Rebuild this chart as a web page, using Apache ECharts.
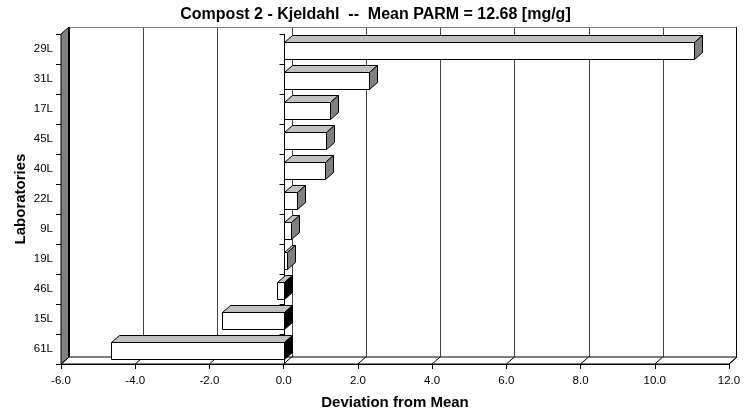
<!DOCTYPE html>
<html>
<head>
<meta charset="utf-8">
<script src="https://cdn.jsdelivr.net/npm/echarts@6/dist/echarts.min.js"></script>
<style>
html,body{margin:0;padding:0;background:#fff;}
#chart{width:751px;height:411px;}
</style>
</head>
<body>
<div id="chart"></div>
<script>
// Data
const labs = ['29L','31L','17L','45L','40L','22L','9L','19L','46L','15L','61L'];
const devs = [11.06, 2.29, 1.26, 1.13, 1.11, 0.37, 0.21, 0.10, -0.17, -1.65, -4.65];
const xTicks = [-6,-4,-2,0,2,4,6,8,10,12];
const titleText = 'Compost 2 - Kjeldahl  --  Mean PARM = 12.68 [mg/g]';

const DX = 8, DY = -7;
const FONT = 'Liberation Sans, Arial, sans-serif';

function frameItem(params, api) {
  const cs = params.coordSys;
  const x0 = cs.x, x1 = cs.x + cs.width, y0 = cs.y, y1 = cs.y + cs.height;
  const ch = [];
  ch.push({type:'rect', shape:{x:x0+DX, y:y0+DY, width:cs.width, height:cs.height}, style:{fill:'#fff', stroke:null}});
  xTicks.forEach(function(v, i){
    if (i === 0 || i === xTicks.length-1) return;
    const px = Math.round(api.coord([v, 0])[0] + DX) + 0.5;
    ch.push({type:'line', shape:{x1:px, y1:y0+DY, x2:px, y2:y1+DY}, style:{stroke:'#444', lineWidth:1}});
  });
  ch.push({type:'line', shape:{x1:x0+DX, y1:y0+DY+0.5, x2:x1+DX, y2:y0+DY+0.5}, style:{stroke:'#808080', lineWidth:1}});
  ch.push({type:'line', shape:{x1:x1+DX-0.5, y1:y0+DY, x2:x1+DX-0.5, y2:y1+DY}, style:{stroke:'#000', lineWidth:1}});
  ch.push({type:'polygon', shape:{points:[[x0,y1],[x1,y1],[x1+DX,y1+DY],[x0+DX,y1+DY]]}, style:{fill:'#fff', stroke:'#000', lineWidth:1}});
  xTicks.forEach(function(v){
    const px = api.coord([v, 0])[0];
    ch.push({type:'line', shape:{x1:px, y1:y1, x2:px+DX, y2:y1+DY}, style:{stroke:'#000', lineWidth:1}});
  });
  ch.push({type:'polygon', shape:{points:[[x0,y0],[x0+DX,y0+DY],[x0+DX,y1+DY],[x0,y1]]}, style:{fill:'#808080', stroke:'#000', lineWidth:1}});
  ch.push({type:'line', shape:{x1:x0+DX, y1:y0+DY, x2:x0+DX, y2:y1+DY}, style:{stroke:'#000', lineWidth:2}});
  const zx = Math.round(api.coord([0, 0])[0]) + 0.5;
  ch.push({type:'line', shape:{x1:zx, y1:y0, x2:zx, y2:y1}, style:{stroke:'#000', lineWidth:1}});
  const band = api.size([0, 1])[1];
  for (let k = 0; k <= labs.length; k++) {
    const yy = Math.round(y0 + k * band) + 0.5;
    ch.push({type:'line', shape:{x1:zx-5, y1:yy, x2:zx, y2:yy}, style:{stroke:'#000', lineWidth:1}});
  }
  return {type:'group', children: ch};
}

function barItem(params, api) {
  const v = api.value(0), c = api.value(1);
  const p0 = api.coord([0, c]), p1 = api.coord([v, c]);
  const band = api.size([0, 1])[1];
  const h = band * 0.55;
  const top = Math.round(p0[1] - band * 0.25) + 0.5;
  const xa = Math.round(Math.min(p0[0], p1[0])) + 0.5;
  const xb = Math.round(Math.max(p0[0], p1[0])) + 0.5;
  const hb = Math.round(h);
  return {type:'group', children:[
    {type:'polygon', shape:{points:[[xa,top],[xb,top],[xb+DX,top+DY],[xa+DX,top+DY]]}, style:{fill:'#c0c0c0', stroke:'#000', lineWidth:1}},
    {type:'rect', shape:{x:xa, y:top, width:xb-xa, height:hb}, style:{fill:'#fff', stroke:'#000', lineWidth:1}},
    {type:'polygon', shape:{points:[[xb,top],[xb+DX,top+DY],[xb+DX,top+hb+DY],[xb,top+hb]]}, style:{fill: v >= 0 ? '#808080' : '#000', stroke:'#000', lineWidth:1}}
  ]};
}

const chart = echarts.init(document.getElementById('chart'), null, {renderer:'canvas'});
chart.setOption({
  animation: false,
  backgroundColor: '#fff',
  title: {
    text: titleText, left: 'center', top: 7, padding: 0,
    textStyle: {fontFamily: FONT, fontSize: 16, fontWeight: 'bold', color: '#000'}
  },
  grid: {left: 61, right: 22, top: 34, bottom: 47, containLabel: false, outerBoundsMode: 'none'},
  xAxis: {
    type: 'value', min: -6, max: 12, interval: 2,
    name: 'Deviation from Mean', nameLocation: 'middle', nameGap: 31,
    nameTextStyle: {fontFamily: FONT, fontSize: 15, fontWeight: 'bold', color: '#000'},
    axisLine: {show: true, onZero: false, lineStyle: {color: '#000', width: 1}},
    axisTick: {show: true, length: 5, lineStyle: {color: '#000'}},
    axisLabel: {fontFamily: FONT, fontSize: 11.5, color: '#000', margin: 11, formatter: function(v){ return v.toFixed(1); }},
    splitLine: {show: false}
  },
  yAxis: {
    type: 'category', data: labs, inverse: true,
    name: 'Laboratories', nameLocation: 'middle', nameGap: 33, nameRotate: 90, nameMoveOverlap: false,
    nameTextStyle: {fontFamily: FONT, fontSize: 15, fontWeight: 'bold', color: '#000'},
    axisLine: {show: true, onZero: false, lineStyle: {color: '#000'}},
    axisTick: {show: true, length: 5, lineStyle: {color: '#000'}},
    axisLabel: {fontFamily: FONT, fontSize: 11.5, color: '#000', margin: 8},
    splitLine: {show: false}
  },
  series: [
    {type: 'custom', name: 'frame', renderItem: frameItem, data: [[0, 0]], encode: {x: 0, y: 1}, clip: false, silent: true, z: 1},
    {type: 'custom', name: 'bars', renderItem: barItem, data: devs.map(function(d, i){ return [d, i]; }), encode: {x: 0, y: 1}, clip: false, z: 3}
  ]
});
</script>
</body>
</html>
